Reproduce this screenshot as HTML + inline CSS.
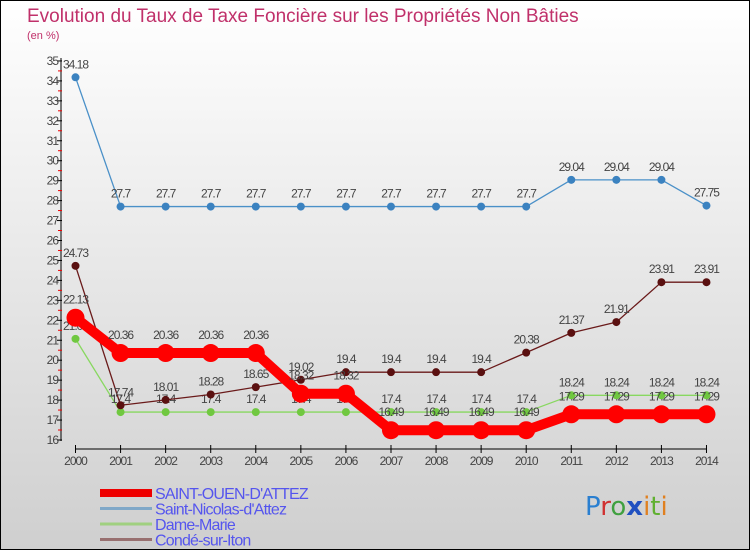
<!DOCTYPE html>
<html><head><meta charset="utf-8"><style>
body{margin:0;width:750px;height:550px;overflow:hidden;font-family:"Liberation Sans",sans-serif}
#wrap{position:absolute;left:0;top:0;width:748px;height:548px;border:1px solid #000;background:linear-gradient(#ffffff,#cfcfcf)}
</style></head><body>
<div id="wrap">
<svg id="chart" width="750" height="550" style="position:absolute;left:-1px;top:-1px">
<text x="27" y="22" font-size="19" fill="#c0306a">Evolution du Taux de Taxe Foncière sur les Propriétés Non Bâties</text>
<text x="27" y="39" font-size="11" fill="#c0306a">(en %)</text>
<g id="axes"></g><g id="series"></g><g id="legend"></g>
<text x="585" y="515" font-size="26" font-family="DejaVu Sans,sans-serif"><tspan fill="#2a7fd0">P</tspan><tspan fill="#d03030">r</tspan><tspan fill="#40a040">o</tspan><tspan fill="#2050c0" font-weight="bold">x</tspan><tspan fill="#e08020">i</tspan><tspan fill="#60b030">t</tspan><tspan fill="#e08020">i</tspan></text>
</svg></div>
<script>
const years=[2000,2001,2002,2003,2004,2005,2006,2007,2008,2009,2010,2011,2012,2013,2014];
const saintOuen=[22.13,20.36,20.36,20.36,20.36,18.32,18.32,16.49,16.49,16.49,16.49,17.29,17.29,17.29,17.29];
const saintNicolas=[34.18,27.7,27.7,27.7,27.7,27.7,27.7,27.7,27.7,27.7,27.7,29.04,29.04,29.04,27.75];
const dameMarie=[21.07,17.4,17.4,17.4,17.4,17.4,17.4,17.4,17.4,17.4,17.4,18.24,18.24,18.24,18.24];
const conde=[24.73,17.74,18.01,18.28,18.65,19.02,19.4,19.4,19.4,19.4,20.38,21.37,21.91,23.91,23.91];
const yTicks=[16,17,18,19,20,21,22,23,24,25,26,27,28,29,30,31,32,33,34,35];
const NS="http://www.w3.org/2000/svg";
const xs=i=>75.5+i*45.07, ys=v=>440-(v-16)*19.95;
function mk(t,a,p){const e=document.createElementNS(NS,t);for(const k in a)e.setAttribute(k,a[k]);p.appendChild(e);return e;}
const ax=document.getElementById('axes');
let l=mk('line',{x1:61,y1:58,x2:61,y2:441,stroke:'#000'},ax);


l=mk('line',{x1:75,y1:449,x2:707,y2:449,stroke:'#000'},ax);


yTicks.forEach(v=>{const y=ys(v);
 mk('line',{x1:57,y1:y,x2:62,y2:y,stroke:'#000'},ax);
 if(v<35)mk('line',{x1:58,y1:y-10,x2:62,y2:y-10,stroke:'#e00'},ax);
 const t=mk('text',{x:58,y:y+4,'font-size':12,'text-anchor':'end',fill:'#444','letter-spacing':'-1'},ax);
 t.textContent=v;
 
 });
years.forEach((yr,i)=>{const x=xs(i);
 mk('line',{x1:x,y1:445,x2:x,y2:453,stroke:'#000'},ax);
 const t=mk('text',{x:x,y:465,'font-size':12,'text-anchor':'middle',fill:'#444','letter-spacing':'-1'},ax);
 t.textContent=yr;
 
 });
const sg=document.getElementById('series');
const defs=[[saintNicolas,'#4a90c8',1.3,4,'#3b82c0','saint-nicolas'],[dameMarie,'#88d860',1.3,4,'#70c840','dame-marie'],[conde,'#6a1a1a',1.3,4,'#5a1010','conde-sur-iton'],[saintOuen,'#ff0000',10,9,'#ff0000','saint-ouen']];
defs.forEach(([d,c,w,r,fc,n])=>{
 const g=mk('g',{},sg);
 
 
 const p=mk('polyline',{points:d.map((v,i)=>xs(i)+','+ys(v)).join(' '),fill:'none',stroke:c,'stroke-width':w,'stroke-linejoin':'round'},g);
 
 
 d.forEach((v,i)=>{const x=xs(i),y=ys(v);
  const ci=mk('circle',{cx:x,cy:y,r:r,fill:fc},g);
  
  
  const t=mk('text',{x:x,y:y-(r+5),'font-size':12,'text-anchor':'middle',fill:'#444','letter-spacing':'-1'},g);
  t.textContent=String(v).replace(/^(\d+)\.(\d)0$/,'$1.$2');
  
  });
});
const lg=document.getElementById('legend');
[['SAINT-OUEN-D\'ATTEZ','#ee0000',8],['Saint-Nicolas-d\'Attez','#80a8c8',3],['Dame-Marie','#a0d080',3],['Condé-sur-Iton','#987070',3]].forEach(([n,c,w],i)=>{
 const y=493+i*15.5;
 const g=mk('g',{},lg);
 
 
 mk('line',{x1:100,y1:y,x2:152,y2:y,stroke:c,'stroke-width':w},g);
 const t=mk('text',{x:155,y:y+6,'font-size':16,fill:'#5555ee','letter-spacing':'-0.8'},g);
 t.textContent=n;});
</script>
</body></html>
